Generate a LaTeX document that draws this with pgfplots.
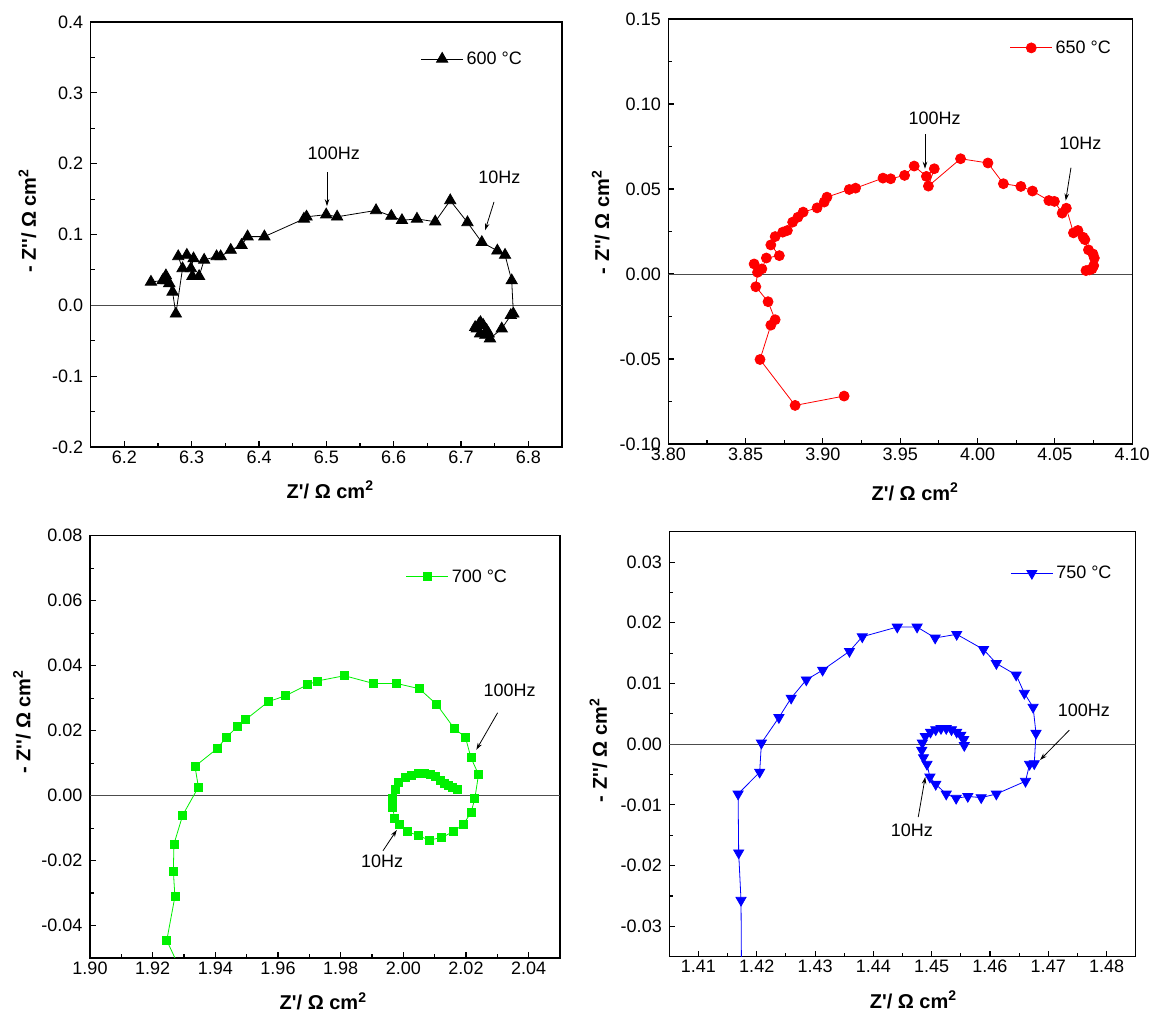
\documentclass[border=0pt]{standalone}
\usepackage{pgfplots}
\pgfplotsset{compat=1.18}
\usepackage{fontspec}
\setmainfont{Liberation Sans}
\usetikzlibrary{arrows.meta}
\newcommand\tfont{\fontsize{18}{21}\selectfont}
\newcommand\lfont{\fontsize{20}{24}\selectfont\bfseries}
\newcommand\zlab{Z\textquotesingle/ Ω cm\textsuperscript{2}}
\newcommand\ylab{- Z\textquotesingle\textquotesingle/ Ω cm\textsuperscript{2}}
\tikzset{ann/.style={black, line width=0.8pt, -{Stealth[length=7pt,width=4.5pt]}}}
\pgfplotsset{
  myax/.style={
    scale only axis, anchor=south west,
    axis line style={line width=1.3pt},
    tick align=inside, tick pos=left,
    major tick length=6pt, minor tick length=4pt,
    every tick/.style={line width=1.1pt, black},
    minor x tick num=1, minor y tick num=1,
    scaled x ticks=false, scaled y ticks=false,
    tick label style={font=\tfont},
    yticklabel style={xshift=-4pt},
    xlabel={\zlab}, ylabel={\ylab},
    legend style={draw=none, fill=none, inner sep=0pt, font=\tfont, nodes={inner sep=3pt}},
    legend image code/.code={\draw[mark repeat=2,mark phase=2,##1] plot coordinates {(0pt,0pt)(21pt,0pt)(42pt,0pt)};},
    clip=true,
  },
  xl/.style 2 args={every axis x label/.style={at={(axis description cs:#1,#2)}, anchor=center, font=\lfont}},
  yl/.style 2 args={every axis y label/.style={at={(axis description cs:#1,#2)}, rotate=90, anchor=center, font=\lfont}},
  zline/.style={black!70, line width=0.9pt, forget plot},
}
\begin{document}
\begin{tikzpicture}
\useasboundingbox (0,0) rectangle (1149pt,1012pt);
% ---------------- 600 C ----------------
\begin{axis}[myax, at={(90.7pt,565pt)}, width=471.3pt, height=425pt,
  xmin=6.15, xmax=6.85, ymin=-0.2, ymax=0.4,
  xtick={6.2,6.3,6.4,6.5,6.6,6.7,6.8}, xticklabels={6.2,6.3,6.4,6.5,6.6,6.7,6.8},
  ytick={-0.2,-0.1,0,0.1,0.2,0.3,0.4}, yticklabels={-0.2,-0.1,0.0,0.1,0.2,0.3,0.4},
  xl={0.508}{-0.101}, yl={-0.134}{0.532},
  legend style={at={(axis description cs:0.9215,0.913)}, anchor=east}]
\addplot[zline] coordinates {(6.15,0) (6.85,0)};
\addplot[black, line width=0.8pt, mark=triangle*, mark size=6.5pt, mark options={fill=black}] coordinates {
(6.2395,0.033) (6.2568,0.035) (6.2617,0.042) (6.2630,0.035) (6.2667,0.031) (6.2716,0.019)
(6.2765,-0.012) (6.2864,0.052) (6.2800,0.069) (6.2928,0.071) (6.3027,0.066) (6.2988,0.052)
(6.3010,0.041) (6.3110,0.041) (6.3185,0.064) (6.3370,0.069) (6.3430,0.069) (6.3580,0.078)
(6.3740,0.085) (6.3830,0.097) (6.4080,0.097) (6.4667,0.122) (6.4706,0.125) (6.4998,0.128)
(6.5160,0.125) (6.5738,0.134) (6.5965,0.126) (6.6123,0.120) (6.6346,0.122) (6.6617,0.118)
(6.6840,0.148) (6.7096,0.117) (6.7309,0.089) (6.7540,0.077) (6.7654,0.071) (6.7753,0.035)
(6.7778,-0.012) (6.7740,-0.014) (6.7605,-0.033) (6.7430,-0.047) (6.7410,-0.040) (6.7380,-0.035)
(6.7360,-0.042) (6.7284,-0.040) (6.7210,-0.031) (6.7235,-0.033) (6.7290,-0.024) (6.7330,-0.028)
(6.7270,-0.026)};
\addlegendentry{600 °C}
\draw[ann] (axis cs:6.501,0.188) -- (axis cs:6.501,0.140);
\node[font=\tfont] at (axis cs:6.511,0.214) {100Hz};
\draw[ann] (axis cs:6.749,0.146) -- (axis cs:6.7358,0.106);
\node[font=\tfont] at (axis cs:6.757,0.181) {10Hz};
\end{axis}
% ---------------- 650 C ----------------
\begin{axis}[myax, at={(668.3pt,568pt)}, width=463.9pt, height=425pt,
  xmin=3.80, xmax=4.10, ymin=-0.10, ymax=0.15,
  xtick={3.80,3.85,3.90,3.95,4.00,4.05,4.10}, xticklabels={3.80,3.85,3.90,3.95,4.00,4.05,4.10},
  ytick={-0.10,-0.05,0,0.05,0.10,0.15}, yticklabels={-0.10,-0.05,0.00,0.05,0.10,0.15},
  xl={0.532}{-0.112}, yl={-0.146}{0.522},
  legend style={at={(axis description cs:0.961,0.932)}, anchor=east}]
\addplot[zline] coordinates {(3.80,0) (4.10,0)};
\addplot[red, line width=0.8pt, mark=*, mark size=5pt, mark options={fill=red}] coordinates {
(3.9137,-0.0718) (3.8820,-0.0773) (3.8593,-0.0503) (3.8663,-0.0301) (3.8691,-0.0269) (3.8645,-0.0163)
(3.8566,-0.0075) (3.8577,0.0010) (3.8555,0.0059) (3.8605,0.0030) (3.8634,0.0094) (3.8718,0.0108)
(3.8663,0.0171) (3.8691,0.0220) (3.8740,0.0246) (3.8770,0.0256) (3.8804,0.0305) (3.8838,0.0334)
(3.8872,0.0364) (3.8962,0.0389) (3.9008,0.0423) (3.9026,0.0452) (3.9170,0.0497) (3.9211,0.0505)
(3.9388,0.0564) (3.9438,0.0560) (3.9528,0.0580) (3.9590,0.0635) (3.9669,0.0574) (3.9720,0.0619)
(3.9682,0.0517) (3.9890,0.0678) (4.0067,0.0653) (4.0167,0.0531) (4.0280,0.0515) (4.0355,0.0488)
(4.0461,0.0432) (4.0497,0.0427) (4.0547,0.0358) (4.0574,0.0387) (4.0620,0.0242) (4.0649,0.0256)
(4.0683,0.0216) (4.0694,0.0202) (4.0717,0.0142) (4.0746,0.0118) (4.0755,0.0094) (4.0751,0.0049)
(4.0724,0.0024) (4.0701,0.0020) (4.0740,0.0030)};
\addlegendentry{650 °C}
\draw[ann] (axis cs:3.966,0.0822) -- (axis cs:3.966,0.0619);
\node[font=\tfont] at (axis cs:3.9723,0.0914) {100Hz};
\draw[ann] (axis cs:4.0604,0.0625) -- (axis cs:4.0570,0.0432);
\node[font=\tfont] at (axis cs:4.0665,0.0771) {10Hz};
\end{axis}
% ---------------- 700 C ----------------
\begin{axis}[myax, at={(90pt,54pt)}, width=470pt, height=422.3pt,
  xmin=1.90, xmax=2.05, ymin=-0.05, ymax=0.08,
  xtick={1.90,1.92,1.94,1.96,1.98,2.00,2.02,2.04}, xticklabels={1.90,1.92,1.94,1.96,1.98,2.00,2.02,2.04},
  ytick={-0.04,-0.02,0,0.02,0.04,0.06,0.08}, yticklabels={-0.04,-0.02,0.00,0.02,0.04,0.06,0.08},
  xl={0.496}{-0.103}, yl={-0.145}{0.559},
  legend style={at={(axis description cs:0.894,0.903)}, anchor=east}]
\addplot[zline] coordinates {(1.90,0) (2.05,0)};
\addplot[color={rgb,255:red,0;green,240;blue,0}, line width=0.8pt, mark=square*, mark size=4pt, mark options={fill={rgb,255:red,0;green,240;blue,0}}] coordinates {
(1.9310,-0.058) (1.9245,-0.0446) (1.9271,-0.0311) (1.9266,-0.0232) (1.9268,-0.0149) (1.9296,-0.0060)
(1.9346,0.0026) (1.9335,0.0090) (1.9405,0.0144) (1.9436,0.0180) (1.9471,0.0213) (1.9497,0.0234)
(1.9569,0.0289) (1.9623,0.0307) (1.9694,0.0341) (1.9727,0.0353) (1.9812,0.0369) (1.9905,0.0345)
(1.9979,0.0345) (2.0051,0.0329) (2.0107,0.0280) (2.0163,0.0206) (2.0198,0.0180) (2.0216,0.0116)
(2.0240,0.0065) (2.0228,-0.0010) (2.0216,-0.0052) (2.0192,-0.0088) (2.0161,-0.0110) (2.0123,-0.0129)
(2.0083,-0.0137) (2.0049,-0.0124) (2.0014,-0.0111) (1.9987,-0.0090) (1.9972,-0.0070) (1.9966,-0.0036)
(1.9966,-0.0010) (1.9974,0.0018) (1.9985,0.0041) (2.0006,0.0055) (2.0027,0.0062) (2.0049,0.0067)
(2.0068,0.0069) (2.0086,0.0065) (2.0102,0.0059) (2.0118,0.0048) (2.0131,0.0038) (2.0144,0.0031)
(2.0158,0.0026) (2.0171,0.0019)};
\addlegendentry{700 °C}
\draw[ann] (axis cs:2.0301,0.0255) -- (axis cs:2.0233,0.0141);
\node[font=\tfont] at (axis cs:2.0339,0.0323) {100Hz};
\draw[ann] (axis cs:1.9935,-0.0170) -- (axis cs:1.9979,-0.0106);
\node[font=\tfont] at (axis cs:1.9932,-0.0201) {10Hz};
\end{axis}
% ---------------- 750 C ----------------
\begin{axis}[myax, at={(669.3pt,55.3pt)}, width=466.4pt, height=425pt,
  xmin=1.405, xmax=1.485, ymin=-0.035, ymax=0.035,
  xtick={1.41,1.42,1.43,1.44,1.45,1.46,1.47,1.48}, xticklabels={1.41,1.42,1.43,1.44,1.45,1.46,1.47,1.48},
  ytick={-0.03,-0.02,-0.01,0,0.01,0.02,0.03}, yticklabels={-0.03,-0.02,-0.01,0.00,0.01,0.02,0.03},
  xl={0.523}{-0.102}, yl={-0.152}{0.486},
  legend style={at={(axis description cs:0.955,0.902)}, anchor=east}]
\addplot[zline] coordinates {(1.405,0) (1.485,0)};
\addplot[blue, line width=0.8pt, mark=triangle*, mark size=5.8pt, mark options={fill=blue, rotate=180}] coordinates {
(1.4174,-0.040) (1.4173,-0.0257) (1.4169,-0.0179) (1.4168,-0.0082) (1.4205,-0.0046) (1.4208,0.0002)
(1.4238,0.0044) (1.4259,0.0076) (1.4285,0.0106) (1.4313,0.0122) (1.4359,0.0153) (1.4381,0.0177)
(1.4441,0.0193) (1.4475,0.0193) (1.4506,0.0175) (1.4543,0.0181) (1.4589,0.0156) (1.4611,0.0133)
(1.4645,0.0114) (1.4659,0.0084) (1.4674,0.0061) (1.4679,0.0018) (1.4676,-0.0032) (1.4668,-0.0033)
(1.4661,-0.0061) (1.4611,-0.0082) (1.4585,-0.0088) (1.4562,-0.0086) (1.4542,-0.0089) (1.4525,-0.0082)
(1.4507,-0.0066) (1.4497,-0.0054) (1.4492,-0.0033) (1.4486,-0.0022) (1.4483,-0.0010) (1.4484,0.0002)
(1.4489,0.0013) (1.4498,0.0020) (1.4507,0.0024) (1.4516,0.0026) (1.4525,0.0026) (1.4534,0.0024)
(1.4543,0.0020) (1.4550,0.0015) (1.4555,0.0008) (1.4556,-0.0002)};
\addlegendentry{750 °C}
\draw[ann] (axis cs:1.4736,0.0023) -- (axis cs:1.4686,-0.0026);
\node[font=\tfont] at (axis cs:1.4761,0.0056) {100Hz};
\draw[ann] (axis cs:1.4477,-0.0120) -- (axis cs:1.4489,-0.0054);
\node[font=\tfont] at (axis cs:1.4466,-0.0142) {10Hz};
\end{axis}
\end{tikzpicture}
\end{document}
